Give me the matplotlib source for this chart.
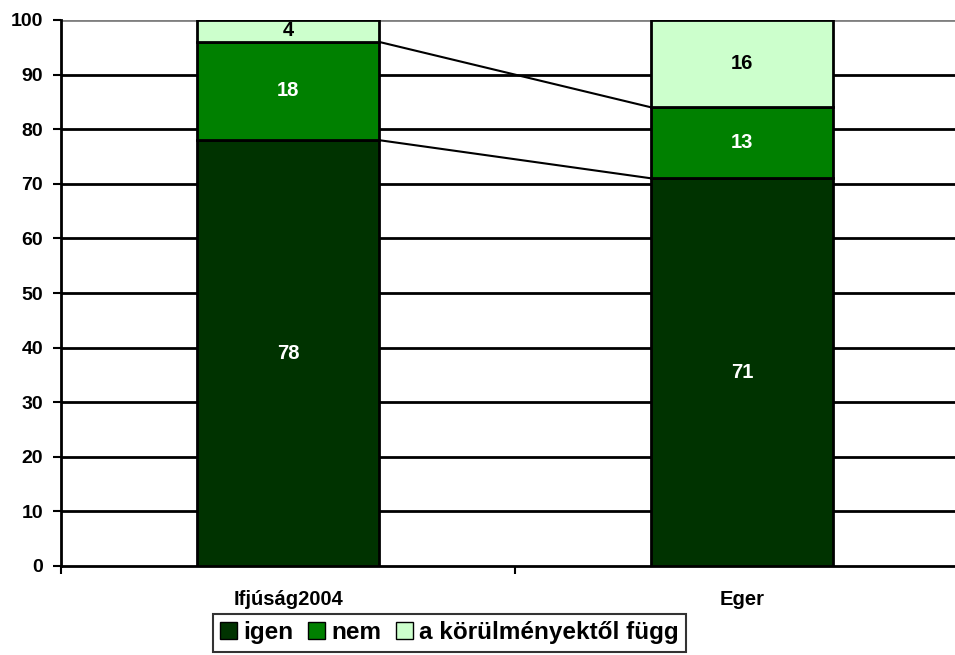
import matplotlib
matplotlib.use("Agg")
import matplotlib.pyplot as plt
from matplotlib.patches import Patch

plt.rcParams["font.family"] = ["Liberation Sans", "DejaVu Sans"]
plt.rcParams["font.weight"] = "bold"

categories = ["Ifjúság2004", "Eger"]
series_names = ["igen", "nem", "a körülményektől függ"]
igen = [78, 71]
nem = [18, 13]
fugg = [4, 16]
colours = ["#003300", "#008000", "#CCFFCC"]
text_colours = ["white", "white", "black"]
y_ticks = list(range(0, 101, 10))

fig = plt.figure(figsize=(9.55, 6.55), dpi=100)
ax = fig.add_axes([61 / 955, 89 / 655, 908 / 955, 546 / 655])

x = [1, 2]
width = 0.4
bottoms = [0, 0]
tops_by_series = []
for vals, col, tcol in zip([igen, nem, fugg], colours, text_colours):
    ax.bar(x, vals, width, bottom=bottoms, color=col, edgecolor="black",
           linewidth=2, zorder=3)
    for xi, b, v in zip(x, bottoms, vals):
        ax.text(xi, b + v / 2, str(v), ha="center", va="center",
                color=tcol, fontsize=14.5, fontweight="bold", zorder=4)
    bottoms = [b + v for b, v in zip(bottoms, vals)]
    tops_by_series.append(list(bottoms))

# series lines between the bars
for tops in tops_by_series[:-1]:
    ax.plot([x[0] + width / 2, x[1] - width / 2], tops, color="black",
            linewidth=1.5, zorder=2)

ax.set_xlim(0.5, 2.5)
ax.set_ylim(0, 100)
ax.set_yticks(y_ticks)
ax.set_xticks([0.5, 1.5, 2.5])
ax.set_xticklabels([])
ax.tick_params(axis="x", length=6, width=1.5, direction="out")
ax.tick_params(axis="y", length=6, width=1.5, direction="out", labelsize=14, pad=7)
for lab in ax.get_yticklabels():
    lab.set_fontweight("bold")

for y in y_ticks[1:-1]:
    ax.axhline(y, color="black", linewidth=2, zorder=1)
ax.axhline(100, color="#808080", linewidth=2, zorder=1)

for sp in ["top", "right"]:
    ax.spines[sp].set_visible(False)
ax.spines["left"].set_linewidth(2)
ax.spines["bottom"].set_linewidth(2)

for xi, cat in zip(x, categories):
    ax.text(xi, -6.2, cat, ha="center", va="center", fontsize=14.5,
            fontweight="bold", clip_on=False)

handles = [Patch(facecolor=c, edgecolor="black", linewidth=1) for c in colours]
leg = fig.legend(handles, series_names, loc="upper left",
                 bbox_to_anchor=(213 / 955, 1 - 614 / 655), ncol=3,
                 frameon=True, fancybox=False, edgecolor="black",
                 prop={"size": 17.5, "weight": "bold"}, handlelength=0.7,
                 handleheight=0.7, handletextpad=0.25, columnspacing=0.6,
                 borderpad=0.3, borderaxespad=0)
leg.get_frame().set_linewidth(1.5)

fig.savefig("out.png", dpi=100)
